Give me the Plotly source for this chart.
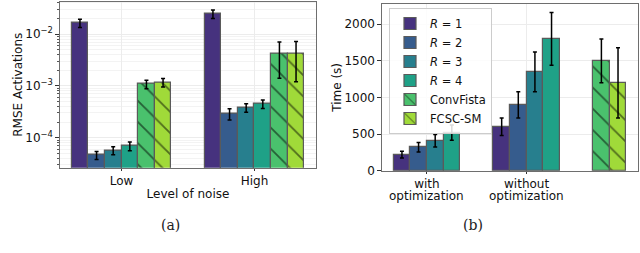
import plotly.graph_objects as go

# ---------------- data ----------------
series_names = ["<i>R</i> = 1", "<i>R</i> = 2", "<i>R</i> = 3", "<i>R</i> = 4", "ConvFista", "FCSC-SM"]
colors = ["#46327e", "#365c8d", "#277f8e", "#1fa187", "#4ac16d", "#a0da39"]
hatched = [False, False, False, False, True, True]

# panel (a): RMSE activations (log scale)
noise_levels = ["Low", "High"]
rmse_mean = [
    [1.63e-2, 2.45e-2],
    [4.6e-5, 2.9e-4],
    [5.7e-5, 3.8e-4],
    [6.9e-5, 4.5e-4],
    [1.08e-3, 4.2e-3],
    [1.17e-3, 4.2e-3],
]
rmse_err = [
    [3.0e-3, 4.5e-3],
    [0.8e-5, 0.7e-4],
    [1.0e-5, 0.7e-4],
    [1.3e-5, 0.85e-4],
    [0.2e-3, 2.8e-3],
    [0.22e-3, 3.0e-3],
]
rmse_ticks = [1e-4, 1e-3, 1e-2]
rmse_ticklabels = ["10<sup>−4</sup>", "10<sup>−3</sup>", "10<sup>−2</sup>"]
rmse_minor = [m * 10.0 ** e for e in (-5, -4, -3, -2) for m in range(2, 10)]

# panel (b): time
time_groups = ["with optimization", "without optimization"]
time_R_mean = [
    [220, 600],
    [320, 900],
    [410, 1350],
    [520, 1800],
]
time_R_err = [
    [45, 120],
    [65, 180],
    [85, 270],
    [105, 360],
]
time_other_mean = [1500, 1200]   # ConvFista, FCSC-SM
time_other_err = [300, 480]
time_ticks = [0, 500, 1000, 1500, 2000]

# ---------------- figure ----------------
FONT = "DejaVu Sans"
fig = go.Figure()

def bar_style(i):
    m = dict(color=colors[i], line=dict(color="#5a5a5a", width=1.2))
    if hatched[i]:
        m["pattern"] = dict(shape="\\", fgcolor="black", bgcolor=colors[i],
                            size=15, solidity=0.12, fillmode="overlay")
    return m

wa = 0.125
for i, name in enumerate(series_names):
    fig.add_trace(go.Bar(
        x=list(range(len(noise_levels))), y=rmse_mean[i],
        width=wa, offset=-3 * wa + i * wa,
        marker=bar_style(i), name=name, showlegend=False,
        error_y=dict(type="data", array=rmse_err[i], color="black", thickness=1.5, width=2),
        xaxis="x", yaxis="y",
    ))

wb = 1 / 6
for i in range(4):
    fig.add_trace(go.Bar(
        x=list(range(len(time_groups))), y=time_R_mean[i],
        width=wb, offset=(i - 2) * wb,
        marker=bar_style(i), name=series_names[i], showlegend=True,
        error_y=dict(type="data", array=time_R_err[i], color="black", thickness=1.5, width=2),
        xaxis="x2", yaxis="y2",
    ))
for j in range(2):
    i = 4 + j
    fig.add_trace(go.Bar(
        x=[len(time_groups)], y=[time_other_mean[j]],
        width=wb, offset=(j - 2) * wb,
        marker=bar_style(i), name=series_names[i], showlegend=True,
        error_y=dict(type="data", array=[time_other_err[j]], color="black", thickness=1.5, width=2),
        xaxis="x2", yaxis="y2",
    ))

H = 253.0
W = 640.0
axis_common = dict(showline=True, mirror=True, linecolor="#6e6e6e", linewidth=1.3,
                   gridcolor="#ececec", gridwidth=1, zeroline=False, automargin=False,
                   ticks="outside", tickcolor="#333",
                   tickfont=dict(family=FONT, size=12, color="#111"))

# two-line tick labels: first word as tick text, remainder as a second line
first_words = [g.split(" ", 1)[0] for g in time_groups]
second_lines = [g.split(" ", 1)[1] for g in time_groups]

annotations = [
    dict(text="(a)", x=159 / W, y=(H - 225) / H, xref="paper", yref="paper",
         yanchor="middle", showarrow=False,
         font=dict(family="DejaVu Serif", size=14, color="#222")),
    dict(text="(b)", x=484.5 / W, y=(H - 225) / H, xref="paper", yref="paper",
         yanchor="middle", showarrow=False,
         font=dict(family="DejaVu Serif", size=14, color="#222")),
]
for k, txt in enumerate(second_lines):
    annotations.append(dict(text=txt, x=k, y=(H - 196) / H, xref="x2", yref="paper",
                            yanchor="middle", showarrow=False, borderpad=0,
                            font=dict(family=FONT, size=12, color="#111")))

fig.update_layout(
    width=640, height=253,
    margin=dict(l=0, r=0, t=0, b=0, autoexpand=False),
    paper_bgcolor="white", plot_bgcolor="white",
    barmode="overlay", bargap=0,
    font=dict(family=FONT, size=12, color="#111"),
    xaxis=dict(domain=[60 / W, 316 / W], range=[-0.4625, 1.4625],
               tickvals=list(range(len(noise_levels))), ticktext=noise_levels, ticklen=2,
               title=dict(text="Level of noise", font=dict(family=FONT, size=12), standoff=2),
               anchor="y", **axis_common),
    yaxis=dict(domain=[(H - 167.7) / H, (H - 1.7) / H], type="log", range=[-4.58, -1.376],
               tickvals=rmse_ticks, ticktext=rmse_ticklabels, ticklen=3.5,
               minor=dict(tickvals=rmse_minor, ticks="outside", ticklen=2, tickcolor="#555",
                          showgrid=True, gridcolor="#f3f3f3"),
               title=dict(text="RMSE Activations", font=dict(family=FONT, size=12), standoff=0),
               anchor="x", **axis_common),
    xaxis2=dict(domain=[382 / W, 638 / W], range=[-0.45, 2.117],
                tickvals=list(range(len(time_groups))), ticktext=first_words, ticklen=2,
                anchor="y2", **axis_common),
    yaxis2=dict(domain=[(H - 170.7) / H, (H - 4) / H], range=[0, 2277],
                tickvals=time_ticks, ticklen=3.5,
                title=dict(text="Time (s)", font=dict(family=FONT, size=12), standoff=0),
                anchor="x2", **axis_common),
    legend=dict(x=389 / W, y=(H - 8) / H, xanchor="left", yanchor="top",
                bgcolor="rgba(255,255,255,0.85)", bordercolor="#cccccc", borderwidth=1,
                font=dict(family=FONT, size=11.5, color="#111"),
                tracegroupgap=0, itemwidth=30),
    annotations=annotations,
)

fig.write_html("out.html", config={"displayModeBar": False},
               post_script="document.body.style.margin='0';")
